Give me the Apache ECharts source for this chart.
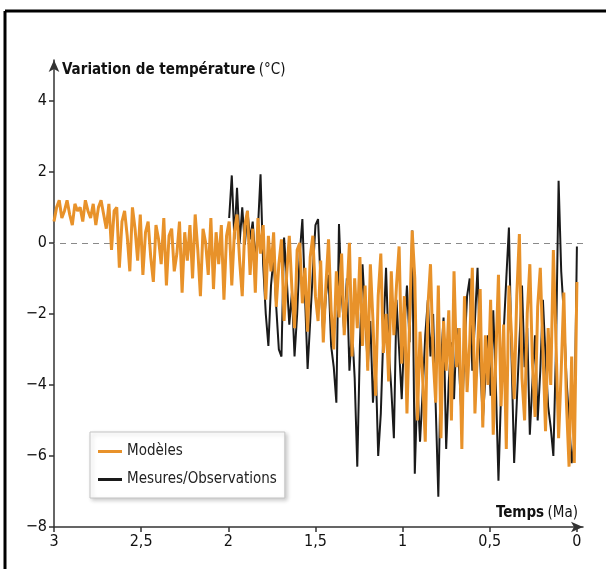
<!DOCTYPE html>
<html lang="fr">
<head>
<meta charset="utf-8"/>
<title>Variation de température</title>
<script src="https://cdn.jsdelivr.net/npm/echarts@6/dist/echarts.min.js"></script>
<style>
  html, body { margin: 0; padding: 0; background: #fff; }
  #chart { width: 606px; height: 569px; }
</style>
</head>
<body>
<div id="chart"></div>
<script type="text/javascript">
// ages (Ma) : un point toutes les 0,015 Ma
var startModeles = 3.0;
var startMesures = 1.995;
var pas = 0.015;

// Modèles (orange), de 3 Ma à 0
var modeles = [
    0.6, 1.0, 1.2, 0.7, 0.9, 1.2, 0.8, 0.5, 1.1, 0.9,
    1.0, 0.6, 1.2, 0.9, 0.7, 1.1, 0.5, 1.0, 1.2, 0.8, 0.4,
    1.1, -0.2, 0.9, 1.0, -0.7, 0.6, 0.9, 0.2, -0.8, 1.0, 0.4, -0.5, 0.8,
    -0.9, 0.3, 0.6, -0.4, -1.1, 0.5, 0.1, -0.6, 0.7, -1.2,
    0.2, 0.4, -0.8, -0.3, 0.6, -1.4, 0.3, -0.5, 0.5, -1.0,
    0.8, -0.2, -1.5, 0.4, 0.0, -0.9, 0.7, -1.3, 0.3, -0.6,
    0.5, -1.6, 0.2,
    0.6, -1.2, 0.3, 0.8, -0.5, -1.5, 0.5, 0.9, -0.9, 0.4,
    -1.4, 0.7, -0.3, 0.5, -1.6, 0.2, -0.8,
    0.3, -1.8, -0.6, 0.1, -2.2, -0.9, 0.2, -1.3, -2.4, -0.2,
    0.0, -1.7, -0.7, -2.5, -0.4, 0.2, -1.5,
    -2.2, -0.5, -2.8, -1.2, 0.1, -1.9, -3.0, -0.8, -2.1, -0.3,
    -2.6, -1.5, 0.0, -3.2, -1.0, -2.4,
    -0.4, -2.9, -1.2, -3.6, -0.6, -2.2, -4.3, -1.5, -0.3, -3.1,
    -2.0, -3.9, -0.8, -2.6, -1.2, -0.1, -3.4,
    -1.5, -4.8, -2.2, 0.35, -1.0, -5.0, -2.5, -3.8, -5.6, -1.8,
    -0.6, -3.2, -4.5, -1.2, -5.5, -2.2, -3.6, -1.9, -5.0, -0.8,
    -3.5, -2.4, -5.8, -1.5, -4.2, -2.8, -0.7, -4.8, -3.0, -1.3,
    -5.2, -2.6, -4.0,
    -1.6, -5.4, -3.2, -0.9, -4.6, -2.3, -5.8, -1.2, -2.6, -4.4,
    -1.5, 0.25, -3.8, -5.0, -2.0, -0.6, -3.4, -4.9, -1.8, -0.7,
    -3.0, -5.3, -2.4, -4.0, -0.2, -2.8, -5.5, -3.6, -1.4, -4.5,
    -6.3, -3.2, -6.2, -1.1
];

// Mesures/Observations (noir), de 2 Ma à 0
var mesures = [
    0.7, 1.9, 0.1, 1.55, 0.0, 1.0, -0.05, 0.9, 0.1, 0.6,
    -0.5, 0.4, 1.93, -0.6, -2.0, -2.9, -1.2, -0.4, -1.8, -3.0,
    -3.2, 0.15, -1.0, -2.3, -1.4, -3.2, -2.0, -0.3, 0.67, -1.5,
    -3.55, -2.2, -0.8, 0.5, 0.67, -1.2, -2.6, -1.5, -0.9, -2.9,
    -3.5, -4.5, 0.53, -1.4, -2.5, -1.0, -3.6, -2.4, -3.8, -6.3,
    -2.9, -0.6, -2.0, -3.5, -2.2, -4.5, -3.3, -6.0, -4.8, -2.5,
    -0.7, -3.0, -4.1, -5.5, -1.6, -3.0, -4.4, -2.5, -1.2, -2.8,
    0.35, -6.5, -4.0, -5.6, -4.2, -2.6, -1.6, -3.2, -2.0, -4.6,
    -7.15, -3.4, -2.1, -5.8, -3.9, -2.8, -4.4, -2.4, -3.6, -5.1,
    -3.0, -1.5, -1.0, -3.6, -2.2, -0.7, -3.3, -5.0, -3.8, -2.6,
    -4.3, -1.9, -4.0, -6.7, -4.2, -2.5, -1.0, 0.43, -3.2, -6.2,
    -4.5, -2.8, -1.2, -3.5, -2.4, -5.4, -3.9, -2.6, -5.0, -3.6,
    -1.6, -3.2, -4.6, -5.2, -6.0, -3.0, 1.75, -0.8, -2.0, -3.8,
    -5.0, -6.2, -5.6, -0.1
];

var yTicks = [-8, -6, -4, -2, 0, 2, 4];
var xTicks = [3, 2.5, 2, 1.5, 1, 0.5, 0];

function enPaires(debut, valeurs) {
    var out = [];
    for (var i = 0; i < valeurs.length; i++) {
        out.push([+(debut - i * pas).toFixed(3), valeurs[i]]);
    }
    return out;
}

var police = '"Liberation Sans Narrow", "DejaVu Sans Condensed", sans-serif';

var myChart = echarts.init(document.getElementById('chart'));
var option = {
    backgroundColor: '#fff',
    animation: false,
    textStyle: { fontFamily: police },
    graphic: [
        // cadre noir (haut et gauche)
        { type: 'line', shape: { x1: 5, y1: 11, x2: 606, y2: 11 }, style: { stroke: '#000', lineWidth: 3 } },
        { type: 'line', shape: { x1: 5, y1: 11, x2: 5, y2: 569 }, style: { stroke: '#000', lineWidth: 3 } }
    ],
    legend: {
        data: ['Modèles', 'Mesures/Observations'],
        orient: 'vertical',
        left: 90,
        top: 432,
        padding: [12, 8, 11, 8],
        itemGap: 13,
        itemWidth: 24,
        itemHeight: 3,
        icon: 'rect',
        backgroundColor: '#fff',
        borderColor: '#c4c4c4',
        borderWidth: 1,
        shadowColor: 'rgba(0,0,0,0.2)',
        shadowBlur: 4,
        shadowOffsetX: 2,
        shadowOffsetY: 2,
        textStyle: { fontSize: 15, color: '#222', fontFamily: police }
    },
    grid: { left: 54, right: 23, top: 60, bottom: 42, outerBoundsMode: 'none' },
    xAxis: {
        type: 'value',
        inverse: true,
        min: -0.035,
        max: 3,
        name: '{b|Temps} {n|(Ma)}',
        nameLocation: 'start',
        nameGap: -5,
        nameTextStyle: {
            align: 'right',
            verticalAlign: 'bottom',
            padding: [0, 0, 6, 0],
            rich: {
                b: { fontSize: 15, fontWeight: 'bold', color: '#111', fontFamily: police },
                n: { fontSize: 15, color: '#111', fontFamily: police }
            }
        },
        axisLine: { onZero: false, lineStyle: { color: '#333', width: 1.5 }, symbol: ['none', 'arrow'], symbolSize: [8, 12] },
        axisTick: { customValues: xTicks, length: 5, lineStyle: { color: '#333', width: 1.5 } },
        axisLabel: {
            customValues: xTicks,
            fontSize: 16,
            color: '#111',
            margin: 7,
            formatter: function (v) { return String(v).replace('.', ','); }
        },
        splitLine: { show: false }
    },
    yAxis: {
        type: 'value',
        min: -8,
        max: 5.15,
        name: '{b|Variation de température} {n|(°C)}',
        nameLocation: 'end',
        nameGap: -10,
        nameTextStyle: {
            align: 'left',
            verticalAlign: 'middle',
            padding: [0, 0, 0, 8],
            rich: {
                b: { fontSize: 15, fontWeight: 'bold', color: '#111', fontFamily: police },
                n: { fontSize: 15, color: '#111', fontFamily: police }
            }
        },
        axisLine: { show: true, onZero: false, lineStyle: { color: '#333', width: 1.5 }, symbol: ['none', 'arrow'], symbolSize: [8, 12] },
        axisTick: { show: true, customValues: yTicks, length: 5, lineStyle: { color: '#333', width: 1.5 } },
        axisLabel: {
            customValues: yTicks,
            fontSize: 16,
            color: '#111',
            margin: 7,
            formatter: function (v) { return String(v).replace('-', '\u2212'); }
        },
        splitLine: { show: false }
    },
    series: [
        {
            name: 'Mesures/Observations',
            type: 'line',
            data: enPaires(startMesures, mesures),
            showSymbol: false,
            itemStyle: { color: '#1a1a1a' },
            lineStyle: { color: '#1a1a1a', width: 2 },
            z: 2
        },
        {
            name: 'Modèles',
            type: 'line',
            data: enPaires(startModeles, modeles),
            showSymbol: false,
            itemStyle: { color: '#e8922a' },
            lineStyle: { color: '#e8922a', width: 3 },
            z: 3,
            markLine: {
                silent: true,
                symbol: 'none',
                label: { show: false },
                lineStyle: { color: '#8a8a8a', type: [6, 5], width: 1 },
                data: [{ yAxis: 0 }],
                z: 1
            }
        }
    ]
};
myChart.setOption(option);
</script>
</body>
</html>
